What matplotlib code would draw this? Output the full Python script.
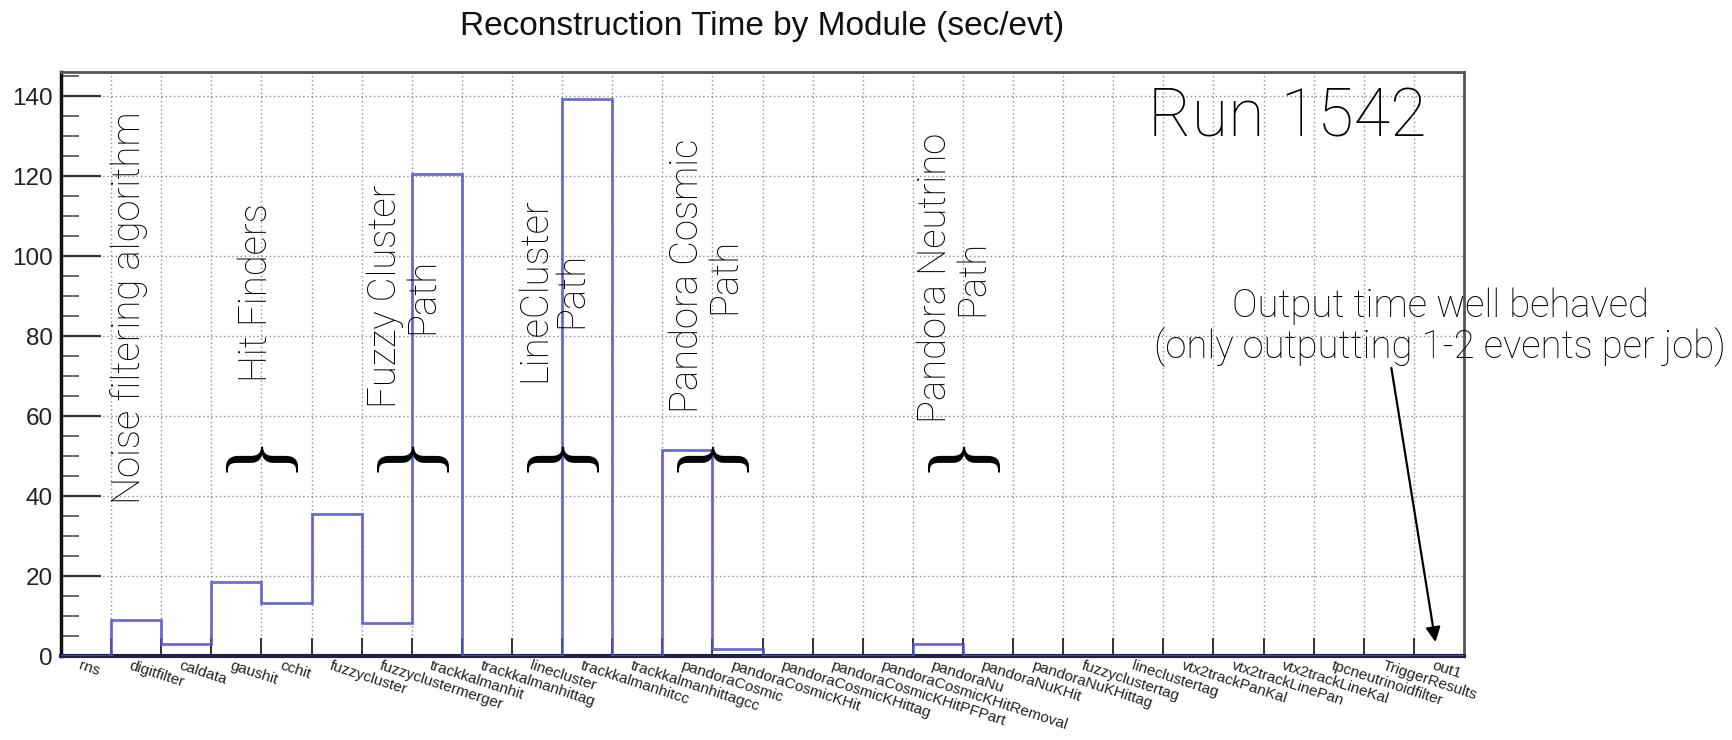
import numpy as np
import matplotlib
matplotlib.use("Agg")
import matplotlib.pyplot as plt
from matplotlib.ticker import MultipleLocator

# modules and reconstruction time per event
modules = ["rns", "digitfilter", "caldata", "gaushit", "cchit", "fuzzycluster",
           "fuzzyclustermerger", "trackkalmanhit", "trackkalmanhittag", "linecluster",
           "trackkalmanhitcc", "trackkalmanhittagcc", "pandoraCosmic", "pandoraCosmicKHit",
           "pandoraCosmicKHittag", "pandoraCosmicKHitPFPart", "pandoraCosmicKHitRemoval",
           "pandoraNu", "pandoraNuKHit", "pandoraNuKHittag", "fuzzyclustertag",
           "lineclustertag", "vtx2trackPanKal", "vtx2trackLinePan", "vtx2trackLineKal",
           "tpcneutrinoidfilter", "TriggerResults", "out1"]
sec_per_evt = [0, 9.0, 3.0, 18.5, 13.3, 35.6, 8.2, 120.5, 0, 0,
               139.3, 0, 51.4, 1.7, 0, 0, 0, 3.0, 0, 0,
               0, 0, 0, 0, 0, 0, 0, 0]

# group labels drawn over the histogram
groups = ["Noise filtering algorithm", "Hit Finders", "Fuzzy Cluster\nPath",
          "LineCluster\nPath", "Pandora Cosmic\nPath", "Pandora Neutrino\nPath"]
group_x = [1.36, 3.89, 6.85, 9.82, 12.87, 17.82]
group_y = [87, 90.8, 90, 91.5, 95, 94.5]
brace_edges = [4, 7, 10, 13, 18]

edges = np.arange(len(modules) + 1)

fig = plt.figure(figsize=(17.33, 7.40), dpi=100)
ax = fig.add_axes([0.0352, 0.1135, 0.8096, 0.7892])

ax.stairs(sec_per_evt, edges, color="#5252cf", lw=2.0, alpha=0.85, zorder=3)

ax.set_xlim(0, len(modules))
ax.set_ylim(0, 146)

# grid and ticks
ax.set_xticks(edges[1:-1])
ax.set_xticklabels([])
ax.yaxis.set_major_locator(MultipleLocator(20))
ax.yaxis.set_minor_locator(MultipleLocator(5))
ax.grid(True, which="major", color="#8c8c8c", lw=1.0, ls=(0, (1, 2)))
ax.tick_params(axis="x", direction="in", length=13, width=1.4, color="#333333")
ax.tick_params(axis="y", which="major", direction="in", length=29, width=1.6,
               color="#333333", labelsize=17.5, pad=6, labelcolor="#222222")
ax.tick_params(axis="y", which="minor", direction="in", length=13, width=1.4,
               color="#666666")
for lab in ax.get_yticklabels():
    lab.set_family("Liberation Sans")

ax.spines["left"].set_linewidth(2.5)
ax.spines["left"].set_color("#111111")
ax.spines["bottom"].set_linewidth(3)
ax.spines["bottom"].set_color("#22224a")
ax.spines["top"].set_linewidth(2)
ax.spines["top"].set_color("#555555")
ax.spines["right"].set_linewidth(2)
ax.spines["right"].set_color("#555555")

# slanted module names hanging from each bin centre
for i, name in enumerate(modules):
    ax.annotate(name, (i + 0.5, 0), xycoords=("data", "axes fraction"),
                xytext=(-3, -2), textcoords="offset points",
                rotation=-18, rotation_mode="anchor", ha="left", va="top",
                fontsize=11, family="Liberation Sans", color="#222222")

fig.text(0.44, 0.964, "Reconstruction Time by Module (sec/evt)", ha="center",
         va="center", fontsize=24, family="Liberation Sans", color="#111111")

# annotations
for txt, x, y in zip(groups, group_x, group_y):
    ax.text(x, y, txt, rotation=90, ha="center", va="center", multialignment="center",
            fontsize=27.5, family="Roboto", fontweight="light", linespacing=1.0,
            zorder=4)
for k in brace_edges:
    ax.text(k - 0.22, 47.7, "{", rotation=-90, ha="center", va="center", fontsize=62,
            family="Liberation Serif", zorder=4)

ax.text(24.47, 134.5, "Run 1542", ha="center", va="center", fontsize=48,
        family="Roboto", fontweight="light")
ax.text(27.52, 82.2, "Output time well behaved\n(only outputting 1-2 events per job)",
        ha="center", va="center", multialignment="center", fontsize=27.5,
        family="Roboto", fontweight="light", linespacing=1.05, clip_on=False)
ax.annotate("", xy=(27.43, 3.5), xytext=(26.55, 72),
            arrowprops=dict(arrowstyle="-|>", color="black", lw=1.6,
                            mutation_scale=22, shrinkA=0, shrinkB=0),
            annotation_clip=False)

fig.savefig("out.png", dpi=100)
